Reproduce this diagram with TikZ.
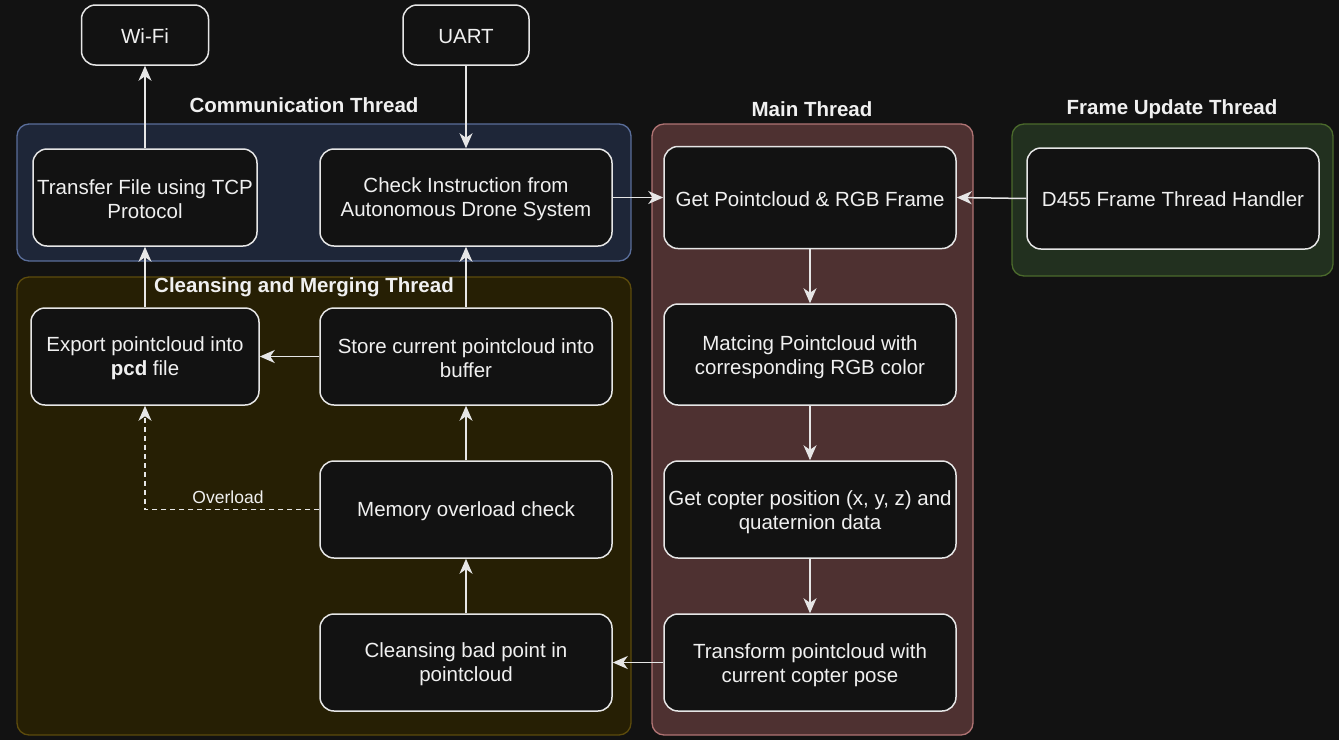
\documentclass[tikz,border=0pt]{standalone}
\usepackage{fontspec}
\setmainfont{Liberation Sans}
\usetikzlibrary{arrows.meta}
\definecolor{bg}{HTML}{121212}
\definecolor{fg}{HTML}{F0F0F0}
\definecolor{edgec}{HTML}{E6E6E6}
\definecolor{bluefill}{HTML}{1E2638}
\definecolor{bluedraw}{HTML}{5A6E9A}
\definecolor{yelfill}{HTML}{261F04}
\definecolor{yeldraw}{HTML}{5C4B0C}
\definecolor{redfill}{HTML}{4E3131}
\definecolor{reddraw}{HTML}{B07474}
\definecolor{grnfill}{HTML}{22301F}
\definecolor{grndraw}{HTML}{4B6A2C}
\tikzset{
  container/.style={rounded corners=12pt, line width=1.3pt},
  procbox/.style={draw=edgec, fill=bg, rounded corners=14pt, line width=1.5pt, inner sep=0pt},
  boxtext/.style={text=fg, align=center, inner sep=0pt, font=\fontsize{20.5}{24}\selectfont},
  title/.style={text=fg, font=\fontsize{20.5}{24}\selectfont\bfseries, inner sep=0pt},
  conn/.style={draw=edgec, line width=1.5pt, -{Stealth[length=15pt,width=13pt,inset=4.5pt]}},
  lbl/.style={text=fg, font=\fontsize{17.5}{20}\selectfont, inner sep=0pt}
}
\begin{document}
\begin{tikzpicture}[x=1pt,y=-1pt]
\fill[bg] (0,0) rectangle (1339,740);
\useasboundingbox (0,0) rectangle (1339,740);
% containers
\draw[container, fill=bluefill, draw=bluedraw] (17,124) rectangle (631,261);
\draw[container, fill=yelfill, draw=yeldraw] (17,277) rectangle (631,735);
\draw[container, fill=redfill, draw=reddraw] (652,124) rectangle (973,735);
\draw[container, fill=grnfill, draw=grndraw] (1012,124) rectangle (1333,276);
% titles
\node[title] (tcomm) at (304,105.5) {Communication Thread};
\node[title] (tclean) at (304,287.5) {Cleansing and Merging Thread};
\node[title] (tmain) at (812,109.5) {Main Thread};
\node[title] (tframe) at (1172,109.5) {Frame Update Thread};
% boxes
\node[procbox, minimum width=127pt, minimum height=60pt] (wifi) at (145,35) {};
\node[procbox, minimum width=126pt, minimum height=60pt] (uart) at (466,35) {};
\node[procbox, minimum width=224pt, minimum height=97pt] (tcp) at (145,197.5) {};
\node[procbox, minimum width=292pt, minimum height=97pt] (check) at (466,197.5) {};
\node[procbox, minimum width=228pt, minimum height=97pt] (export) at (145,356.5) {};
\node[procbox, minimum width=292pt, minimum height=97pt] (store) at (466,356.5) {};
\node[procbox, minimum width=292pt, minimum height=97pt] (mem) at (466,509.5) {};
\node[procbox, minimum width=292pt, minimum height=97pt] (clean) at (466,662.5) {};
\node[procbox, minimum width=292pt, minimum height=102pt] (getpc) at (810,197.5) {};
\node[procbox, minimum width=292pt, minimum height=101pt] (match) at (810,354.5) {};
\node[procbox, minimum width=292pt, minimum height=97pt] (copter) at (810,509.5) {};
\node[procbox, minimum width=292pt, minimum height=97pt] (trans) at (810,662.5) {};
\node[procbox, minimum width=292pt, minimum height=101pt] (d455) at (1173,198.5) {};
% texts
\node[boxtext] (wifit) at ([yshift=-1.5pt]wifi.center) {Wi-Fi};
\node[boxtext] (uartt) at ([yshift=-1.5pt]uart.center) {UART};
\node[boxtext] (tcpt) at ([yshift=-2pt]tcp.center) {Transfer File using TCP\\Protocol};
\node[boxtext] (checkt) at ([yshift=-2pt]check.center) {Check Instruction from\\Autonomous Drone System};
\node[boxtext] (exportt) at ([yshift=-2pt]export.center) {Export pointcloud into\\\textbf{pcd} file};
\node[boxtext] (storet) at ([yshift=-2pt]store.center) {Store current pointcloud into\\buffer};
\node[boxtext] (memt) at ([yshift=-2pt]mem.center) {Memory overload check};
\node[boxtext] (cleant) at ([yshift=-2pt]clean.center) {Cleansing bad point in\\pointcloud};
\node[boxtext] (getpct) at ([yshift=-1.5pt]getpc.center) {Get Pointcloud \& RGB Frame};
\node[boxtext] (matcht) at ([yshift=-2.5pt]match.center) {Matcing Pointcloud with\\corresponding RGB color};
\node[boxtext] (coptert) at ([yshift=-2.5pt]copter.center) {Get copter position (x, y, z) and\\quaternion data};
\node[boxtext] (transt) at ([yshift=-2.5pt]trans.center) {Transform pointcloud with\\current copter pose};
\node[boxtext] (d455t) at ([yshift=-1pt]d455.center) {D455 Frame Thread Handler};
% connectors
\draw[conn] (tcp) -- (wifi);
\draw[conn] (uart) -- (check);
\draw[conn] (export) -- (tcp);
\draw[conn] (store) -- (check);
\draw[conn] (store) -- (export);
\draw[conn] (mem) -- (store);
\draw[conn] (clean) -- (mem);
\draw[conn] (check.east) -- (getpc.west);
\draw[conn] (d455.west) -- (getpc.east);
\draw[conn] (getpc) -- (match);
\draw[conn] (match) -- (copter);
\draw[conn] (copter) -- (trans);
\draw[conn] (trans) -- (clean);
\draw[conn, dashed, dash pattern=on 5pt off 4pt] (mem.west) -| (export.south);
\node[lbl] (ovl) at (228,497) {Overload};
\end{tikzpicture}
\end{document}
